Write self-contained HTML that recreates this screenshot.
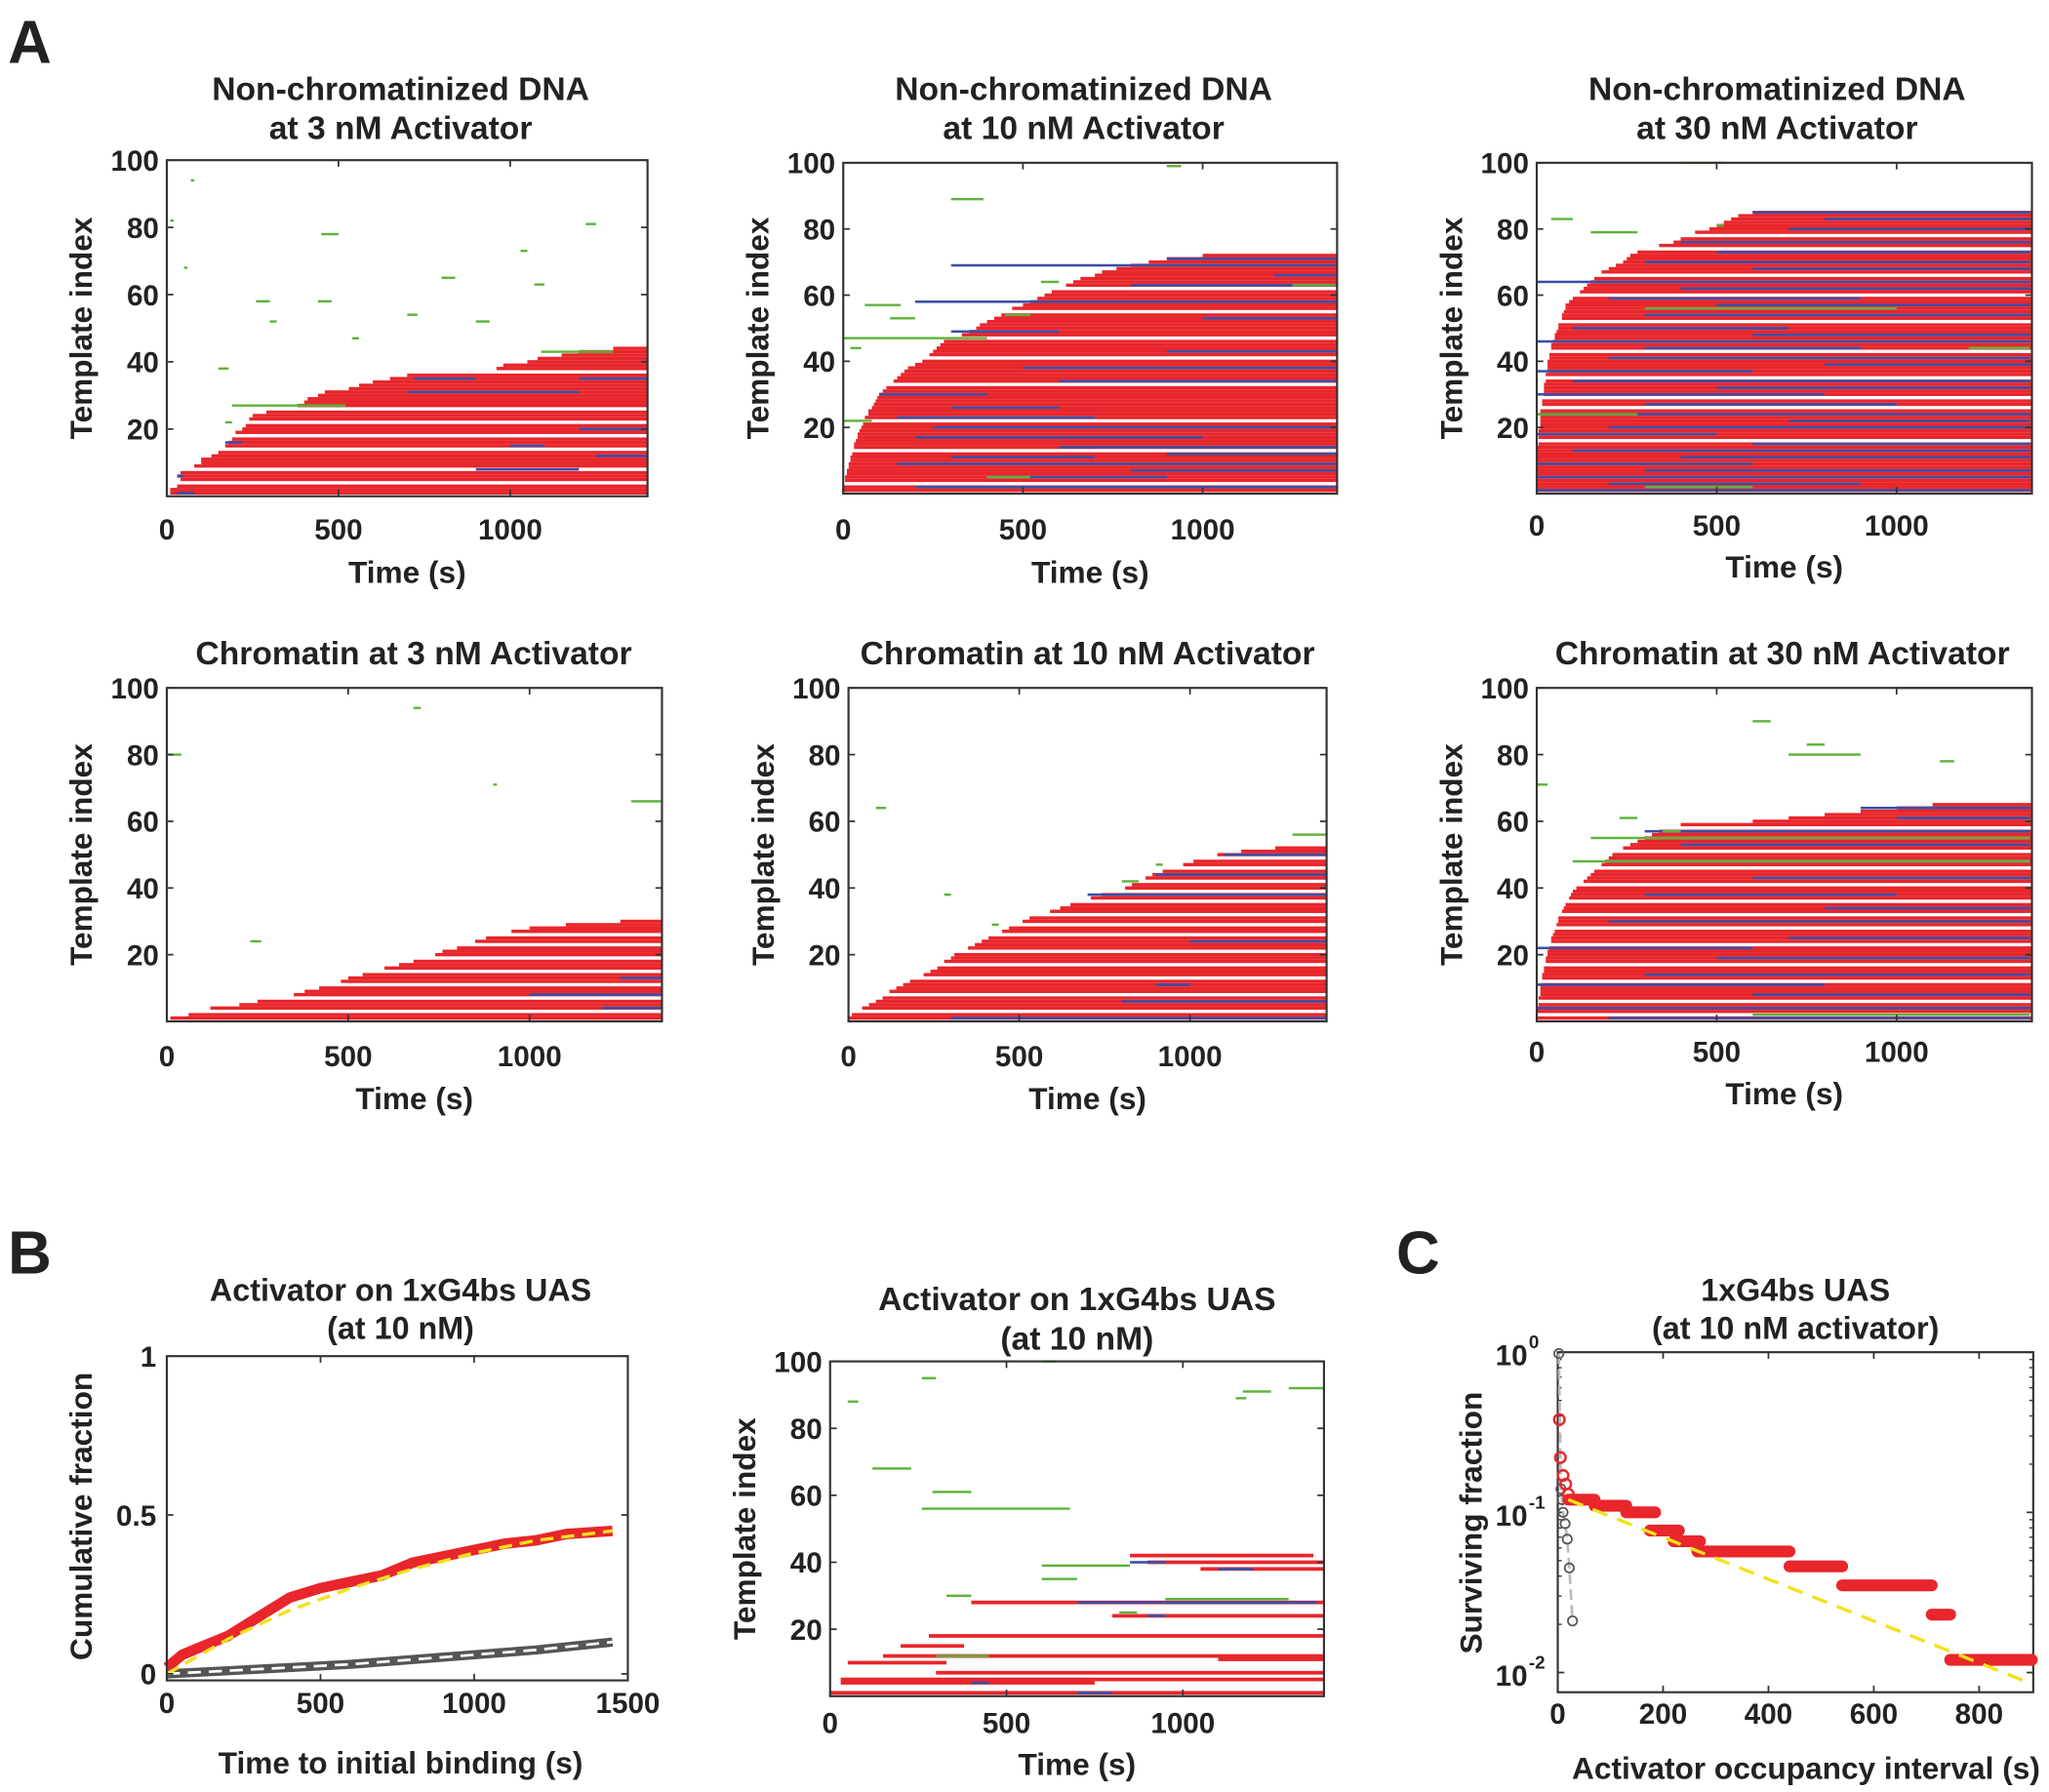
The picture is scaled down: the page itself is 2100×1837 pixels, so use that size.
<!DOCTYPE html>
<html><head><meta charset="utf-8"><style>
html,body{margin:0;padding:0;background:#fff}
svg{display:block}
text{font-family:"Liberation Sans",Arial,sans-serif;font-weight:bold;fill:#222}
</style></head><body>
<svg id="fig" width="2100" height="1837" viewBox="0 0 1560 1365" preserveAspectRatio="none" xmlns="http://www.w3.org/2000/svg">
<rect width="1560" height="1365" fill="#fff"/>
<text x="6" y="48" font-size="46">A</text>
<text x="6" y="970" font-size="46">B</text>
<text x="1063" y="970" font-size="46">C</text>
</svg>
<script>
// ---------- raster data (template index rows: start time of occupancy) ----------
const p1Starts=[10,10,30,null,40,30,40,null,80,100,100,130,150,null,170,180,190,null,200,220,230,null,240,250,290,null,380,400,410,440,460,530,560,600,650,700,null,960,980,1050,1080,1150,1200,1300];
const p1Blue=[[1,30,80],[6,30,50],[16,170,220],[31,700,1200],[12,1250,1400],[20,1200,1400],[35,720,900],[35,1200,1400],[8,900,1200],[15,1000,1100]];
const p1Green=[[27,190,520],[38,150,180],[58,260,300],[58,440,480],[78,450,500],[65,800,840],[63,1070,1100],[54,700,730],[47,540,560],[73,1030,1050],[81,1220,1250],[43,1090,1300],[22,170,190],[68,50,60],[94,70,80],[82,10,20],[52,300,320],[52,900,940]];
const p2Starts=[0,0,null,5,5,10,10,15,15,20,20,25,null,30,30,35,40,40,45,50,55,null,60,70,70,80,85,90,95,100,110,120,null,140,150,160,170,180,200,220,null,240,250,260,270,280,null,330,350,370,380,400,420,440,null,470,500,520,540,560,580,null,620,640,660,700,720,760,800,850,900,1000];
const p2Blue=[[2,200,1370],[5,400,900],[9,150,1370],[11,300,700],[14,600,1370],[17,200,1000],[20,250,1370],[23,150,700],[26,300,600],[30,100,400],[34,600,1370],[38,500,1370],[43,900,1370],[49,300,600],[53,1000,1370],[58,200,1370],[63,800,1370],[66,1200,1370],[69,300,1370],[71,900,1370],[7,800,1370],[12,900,1370]];
const p2Green=[[89,300,390],[57,60,160],[47,0,400],[53,130,200],[64,550,600],[44,20,50],[54,450,520],[22,0,80],[99,900,940],[63,1250,1370],[5,400,520]];
const p3Starts=[0,0,0,0,0,0,0,0,0,0,0,0,0,0,5,null,5,5,5,10,10,10,10,10,10,null,15,15,null,20,20,20,20,25,null,25,30,30,30,30,35,35,null,40,40,45,50,50,55,60,60,null,70,70,75,80,80,90,100,null,120,130,140,150,160,null,180,200,220,240,250,260,280,null,340,380,400,null,440,480,500,520,540,560,600];
const p3Blue=[[1,0,1370],[3,200,900],[5,0,1370],[7,300,1370],[9,0,600],[11,400,1370],[13,100,1370],[15,600,1370],[18,0,500],[20,200,1370],[22,700,1370],[24,0,1370],[27,300,1000],[30,0,800],[32,500,1370],[34,100,1370],[37,0,600],[39,800,1370],[41,200,1370],[44,300,900],[46,0,1370],[48,600,1370],[50,100,700],[54,300,1370],[57,500,1370],[59,200,900],[62,400,1370],[64,0,1370],[68,600,1370],[70,300,1370],[73,500,1370],[76,400,1370],[80,700,1370],[83,800,1370],[85,600,1370]];
const p3Green=[[100,400,520],[83,40,100],[81,500,520],[79,150,280],[56,300,1000],[24,0,280],[44,1200,1370],[2,300,600]];
const p4Starts=[10,60,null,120,200,250,null,350,380,420,null,480,500,540,null,600,640,680,null,740,760,800,null,850,880,null,950,1000,1100,1250];
const p4Blue=[[4,1200,1365],[8,1000,1365],[13,1250,1365]];
const p4Green=[[80,0,40],[66,1280,1365],[24,230,260],[94,680,700],[71,900,910]];
const p5Starts=[0,10,null,40,60,80,100,null,120,140,160,180,null,220,240,260,null,280,300,310,null,350,370,390,410,null,450,470,null,510,530,null,590,620,650,null,710,740,null,810,830,null,870,890,920,null,980,1010,null,1080,1150,1250];
const p5Blue=[[1,300,1400],[6,800,1400],[11,900,1000],[24,1000,1400],[38,700,1400],[44,900,1400],[50,1100,1400]];
const p5Green=[[64,80,110],[38,280,300],[42,800,850],[56,1300,1400],[47,900,920],[29,420,440]];
const p6Starts=[0,null,0,0,5,null,5,10,10,10,10,null,15,15,20,20,null,25,25,30,30,35,null,40,40,45,50,null,55,60,60,null,70,75,80,null,90,95,100,110,null,130,140,150,160,null,180,190,200,210,null,240,260,280,300,320,340,null,400,600,700,800,900,1000,1100];
const p6Blue=[[1,200,1370],[4,0,1370],[8,600,1370],[11,0,800],[14,300,1370],[19,500,1370],[22,0,600],[25,700,1370],[30,200,1370],[34,800,1370],[38,300,1000],[43,600,1370],[48,200,1370],[53,400,1370],[57,300,1370],[61,1000,1370],[64,900,1370]];
const p6Green=[[2,600,1370],[55,150,1370],[48,100,1370],[80,700,900],[83,750,800],[90,600,650],[100,1000,1370],[61,230,280],[57,350,400],[71,0,30],[78,1120,1160]];
const p8Bars=[[42,850,1370],[40,900,1400],[38,1050,1400],[28,400,1400],[24,800,1400],[18,280,1400],[15,200,380],[12,150,1400],[11,1100,1400],[10,50,330],[7,300,1400],[5,30,1400],[4,30,750],[1,0,1400]];
const p8Blue=[[28,700,1380],[40,850,950],[38,1100,1200],[24,900,950],[4,400,450],[1,700,800]];
const p8Green=[[39,600,850],[35,600,700],[30,330,400],[29,950,1300],[25,820,870],[61,290,400],[56,260,680],[68,120,230],[91,1170,1250],[92,1300,1400],[89,1150,1180],[95,260,300],[88,50,80],[100,600,640],[12,300,450]];
// ---------- panel B curves ----------
const cumTimes=[0,50,100,200,300,400,500,600,700,800,900,1000,1100,1200,1300,1450];
const cumRed=[0.02,0.06,0.08,0.12,0.18,0.24,0.27,0.29,0.31,0.35,0.37,0.39,0.41,0.42,0.44,0.45];
const cumFitTimes=[0,200,400,600,800,1000,1200,1450];
const cumFit=[0.0,0.11,0.2,0.27,0.33,0.38,0.42,0.45];
const cumGrayTimes=[0,200,400,600,800,1000,1200,1450];
const cumGray=[0.0,0.01,0.02,0.03,0.045,0.06,0.075,0.1];
// ---------- panel C ----------
const survStepStart=[20,70,130,175,220,265,440,540,710,745];
const survStepEnd=[70,130,185,230,270,440,540,710,745,900];
const survStepVal=[0.12,0.11,0.1,0.077,0.066,0.057,0.046,0.035,0.023,0.012];
const survRedCircX=[3,5,10,15,20];
const survRedCircY=[0.38,0.22,0.17,0.15,0.13];
const survGrayX=[2,6,8,10,14,18,22,28];
const survGrayY=[0.98,0.14,0.12,0.1,0.085,0.068,0.045,0.021];
const survFitX=[20,900];
const survFitY=[0.12,0.0085];

const NS='http://www.w3.org/2000/svg';
const svg=document.getElementById('fig');
function el(tag,attrs,parent){const e=document.createElementNS(NS,tag);for(const k in attrs)e.setAttribute(k,attrs[k]);(parent||svg).appendChild(e);return e;}
function txt(s,x,y,size,anchor,parent,rot){const t=el('text',{x:x,y:y,'font-size':size,'text-anchor':anchor||'middle'},parent);if(rot)t.setAttribute('transform','rotate(-90 '+x+' '+y+')');t.textContent=s;return t;}

function axesBox(g,b,xt,yt){
  el('rect',{x:b.x0,y:b.y0,width:b.x1-b.x0,height:b.y1-b.y0,fill:'none',stroke:'#333','stroke-width':1.6},g);
  xt.forEach(v=>{const x=b.sx(v);el('line',{x1:x,x2:x,y1:b.y1,y2:b.y1-5,stroke:'#333','stroke-width':1.3},g);el('line',{x1:x,x2:x,y1:b.y0,y2:b.y0+5,stroke:'#333','stroke-width':1.3},g);});
  yt.forEach(v=>{const y=b.sy(v);el('line',{x1:b.x0,x2:b.x0+5,y1:y,y2:y,stroke:'#333','stroke-width':1.3},g);el('line',{x1:b.x1,x2:b.x1-5,y1:y,y2:y,stroke:'#333','stroke-width':1.3},g);});
}

function raster(name,b,titles,starts,blue,green,bars,xlabY,tickY){
  const g=el('g',{});
  
  
  b.sx=t=>b.x0+t*(b.x1-b.x0)/b.xmax;
  b.sy=v=>b.y1-v*(b.y1-b.y0)/100;
  const rh=(b.y1-b.y0)/100;
  const seg=(r,t0,t1,c,h)=>{const e=el('rect',{x:b.sx(t0),y:b.sy(r)-rh*(h||1)/2,width:Math.max(1,b.sx(Math.min(t1,b.xmax))-b.sx(t0)),height:rh*(h||1),fill:c},g);return e;};
  if(starts){starts.forEach((s,i)=>{if(s===null)return;const e=seg(i+1,s,b.xmax,'#e8262b');});}
  if(bars){bars.forEach(d=>{const e=seg(d[0],d[1],d[2],'#e8262b',1.1);});}
  blue.forEach(d=>{const e=seg(d[0],d[1],d[2],'#3a4fa8',0.75);});
  green.forEach(d=>{const e=seg(d[0],d[1],d[2],'#5cb33a',0.7);});
  const xt=[0,500,1000],yt=[20,40,60,80,100];
  axesBox(g,b,xt,yt);
  xt.forEach(v=>{const t=txt(String(v),b.sx(v),tickY,22,'middle',g);});
  yt.forEach(v=>{const t=txt(String(v),b.x0-6,b.sy(v)+8,22,'end',g);});
  const cx=(b.x0+b.x1)/2;
  titles.forEach((s,i)=>{const t=txt(s,b.tx||cx,b.ty+i*30,25,'middle',g);});
  const xl=txt('Time (s)',cx,xlabY,23.5,'middle',g);
  const yl=txt('Template index',b.x0-57,(b.y0+b.y1)/2,23.5,'middle',g,true);
}

raster('raster-dna-3nm',{x0:127,x1:493,y0:122,y1:378,xmax:1400,ty:76,tx:305},['Non-chromatinized DNA','at 3 nM Activator'],p1Starts,p1Blue,p1Green,null,444,411);
raster('raster-dna-10nm',{x0:642,x1:1018,y0:124,y1:376,xmax:1374,ty:76,tx:825},['Non-chromatinized DNA','at 10 nM Activator'],p2Starts,p2Blue,p2Green,null,444,411);
raster('raster-dna-30nm',{x0:1170,x1:1547,y0:124,y1:376,xmax:1376,ty:76,tx:1353},['Non-chromatinized DNA','at 30 nM Activator'],p3Starts,p3Blue,p3Green,null,440,408);
raster('raster-chromatin-3nm',{x0:127,x1:504,y0:524,y1:778,xmax:1365,ty:506,tx:315},['Chromatin at 3 nM Activator'],p4Starts,p4Blue,p4Green,null,845,812);
raster('raster-chromatin-10nm',{x0:646,x1:1010,y0:524,y1:778,xmax:1400,ty:506,tx:828},['Chromatin at 10 nM Activator'],p5Starts,p5Blue,p5Green,null,845,812);
raster('raster-chromatin-30nm',{x0:1170,x1:1547,y0:524,y1:778,xmax:1376,ty:506,tx:1357},['Chromatin at 30 nM Activator'],p6Starts,p6Blue,p6Green,null,841,809);
raster('raster-1xg4bs',{x0:632,x1:1008,y0:1037,y1:1292,xmax:1400,ty:998,tx:820},['Activator on 1xG4bs UAS','(at 10 nM)'],null,p8Blue,p8Green,p8Bars,1352,1320);

// ---------- cumulative fraction panel ----------
(function(){
  const g=el('g',{});
  
  
  const b={x0:127,x1:478,y0:1033,y1:1280};
  b.sx=t=>127+t*(478-127)/1500;
  b.sy=v=>1275-v*(1275-1033);
  const pts=(xs,ys)=>xs.map((x,i)=>b.sx(x).toFixed(1)+','+b.sy(ys[i]).toFixed(1)).join(' ');
  let e=el('polyline',{points:pts(cumGrayTimes,cumGray),fill:'none',stroke:'#555','stroke-width':7,'stroke-linejoin':'round'},g);
  
  e=el('polyline',{points:pts(cumGrayTimes,cumGray),fill:'none',stroke:'#fff','stroke-width':2,'stroke-dasharray':'10 6'},g);
  
  e=el('polyline',{points:pts(cumTimes,cumRed),fill:'none',stroke:'#e8262b','stroke-width':8,'stroke-linejoin':'round'},g);
  
  e=el('polyline',{points:pts(cumFitTimes,cumFit),fill:'none',stroke:'#f2e21a','stroke-width':2.5,'stroke-dasharray':'10 6'},g);
  
  axesBox(g,b,[0,500,1000,1500],[0,0.5,1]);
  [0,500,1000,1500].forEach(v=>{const t=txt(String(v),b.sx(v),1305,22,'middle',g);});
  [[0,'0'],[0.5,'0.5'],[1,'1']].forEach(d=>{const t=txt(d[1],b.x0-8,b.sy(d[0])+8,22,'end',g);});
  let t=txt('Activator on 1xG4bs UAS',305,991,24,'middle',g);
  t=txt('(at 10 nM)',305,1020,24,'middle',g);
  t=txt('Time to initial binding (s)',305,1351,23.5,'middle',g);
  t=txt('Cumulative fraction',70,1155,23.5,'middle',g,true);
})();

// ---------- surviving fraction panel ----------
(function(){
  const g=el('g',{});
  
  
  const b={x0:1186,x1:1548,y0:1030,y1:1289};
  b.sx=t=>1186+t*0.401;
  b.sy=v=>1030-Math.log10(v)*122;
  const minor=[];[0.01,0.1].forEach(d=>{for(let k=2;k<=9;k++)minor.push(d*k);});
  axesBox(g,b,[0,200,400,600,800],[0.01,0.1,1]);
  minor.forEach(v=>{const y=b.sy(v);el('line',{x1:b.x0,x2:b.x0+3,y1:y,y2:y,stroke:'#333','stroke-width':1},g);el('line',{x1:b.x1,x2:b.x1-3,y1:y,y2:y,stroke:'#333','stroke-width':1},g);});
  let e=el('polyline',{points:survGrayX.map((x,i)=>b.sx(x)+','+b.sy(survGrayY[i])).join(' '),fill:'none',stroke:'#bbb','stroke-width':2,'stroke-dasharray':'8 4'},g);
  
  survGrayX.forEach((x,i)=>{const c=el('circle',{cx:b.sx(x),cy:b.sy(survGrayY[i]),r:3.5,fill:'none',stroke:'#555','stroke-width':1.3},g);});
  survRedCircX.forEach((x,i)=>{const c=el('circle',{cx:b.sx(x),cy:b.sy(survRedCircY[i]),r:4,fill:'none',stroke:'#e8262b','stroke-width':1.8},g);});
  survStepStart.forEach((s,i)=>{const y=b.sy(survStepVal[i]);const l=el('line',{x1:b.sx(s),x2:b.sx(survStepEnd[i]),y1:y,y2:y,stroke:'#e8262b','stroke-width':9,'stroke-linecap':'round'},g);});
  e=el('line',{x1:b.sx(survFitX[0]),y1:b.sy(survFitY[0]),x2:b.sx(survFitX[1]),y2:b.sy(survFitY[1]),stroke:'#f2e21a','stroke-width':2.5,'stroke-dasharray':'12 8'},g);
  
  [0,200,400,600,800].forEach(v=>{const t=txt(String(v),b.sx(v),1313,22,'middle',g);});
  [[1,'0'],[0.1,'-1'],[0.01,'-2']].forEach(d=>{const y=b.sy(d[0]);const t=txt('10',1163,y+10,22,'end',g);const s=txt(d[1],1164,y-3,14,'start',g);});
  let t=txt('1xG4bs UAS',1367,991,24,'middle',g);
  t=txt('(at 10 nM activator)',1367,1020,24,'middle',g);
  t=txt('Activator occupancy interval (s)',1375,1355,23.5,'middle',g);
  t=txt('Surviving fraction',1128,1160,23.5,'middle',g,true);
})();
</script>
</body></html>
